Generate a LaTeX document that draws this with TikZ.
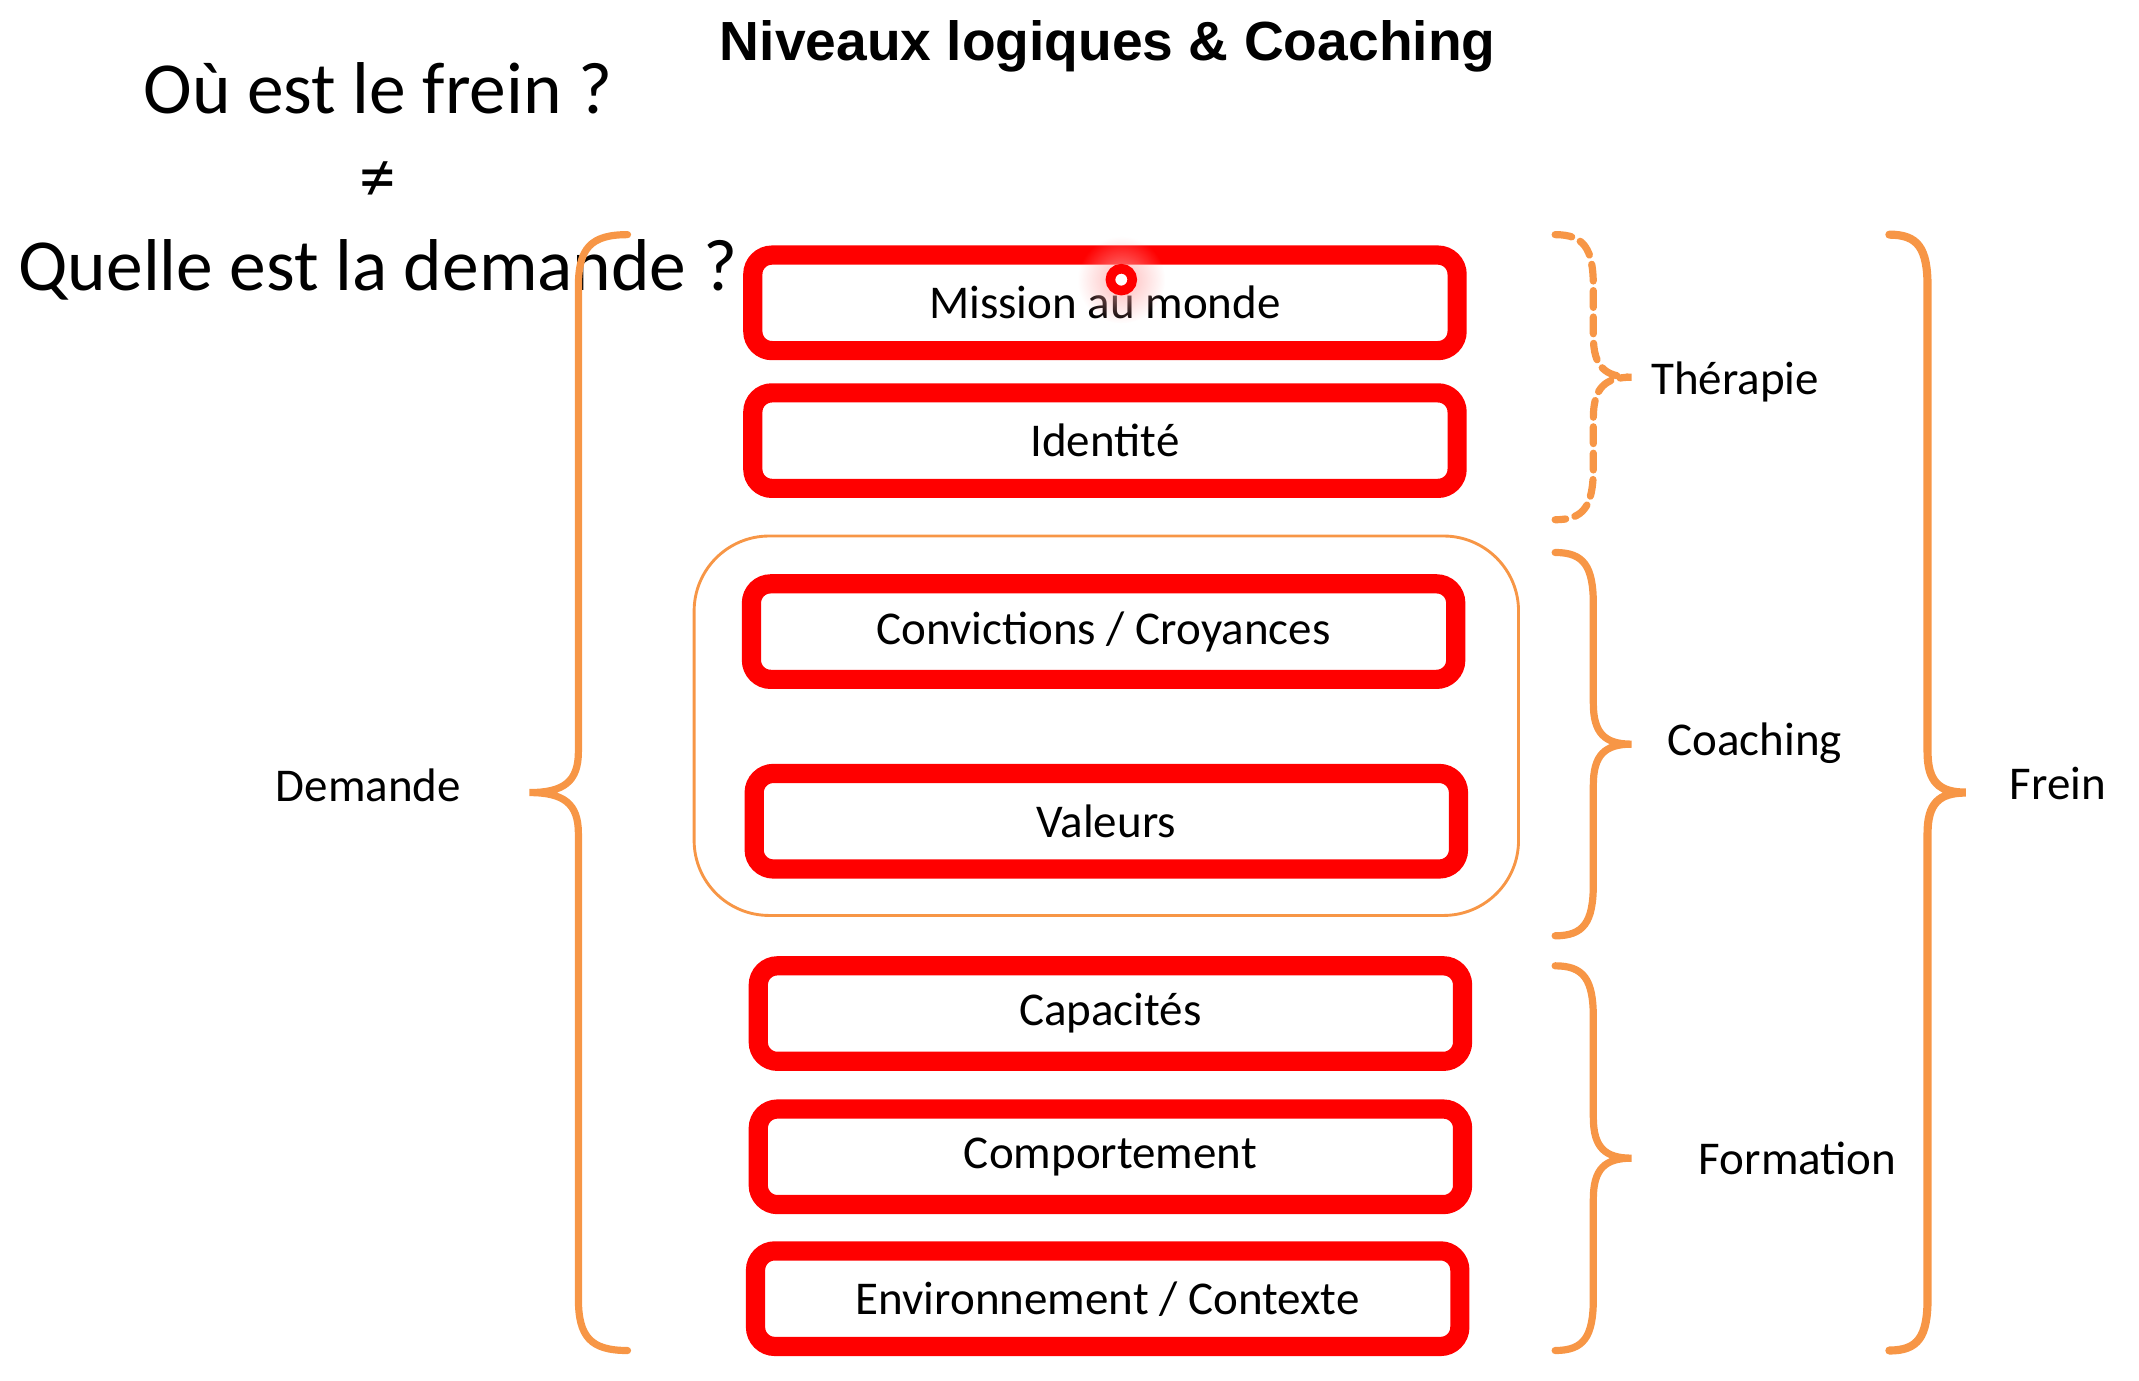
\documentclass[tikz,border=0pt]{standalone}
\usepackage{fontspec}
\setmainfont{Carlito}
\newfontfamily\titrefont{Liberation Sans}
\usetikzlibrary{fadings}
\definecolor{rougeniv}{RGB}{255,0,0}
\definecolor{orangeniv}{RGB}{247,150,70}
\tikzfading[name=halo, inner color=transparent!20, outer color=transparent!100]
% accolade : [options]{x des bouts}{y haut}{y bas}{profondeur}
\newcommand{\accolade}[5][]{%
    \draw[accolade, #1] (#2,#3) .. controls ({#2+0.75*#5},#3) and ({#2+#5},{#3-10}) .. ({#2+#5},{#3-38})
        -- ({#2+#5},{(#3+#4)/2+30}) .. controls ({#2+#5},{(#3+#4)/2+8}) and ({#2+1.3*#5},{(#3+#4)/2}) .. ({#2+2*#5},{(#3+#4)/2})
        .. controls ({#2+1.3*#5},{(#3+#4)/2}) and ({#2+#5},{(#3+#4)/2-8}) .. ({#2+#5},{(#3+#4)/2-30})
        -- ({#2+#5},{#4+38}) .. controls ({#2+#5},{#4+10}) and ({#2+0.75*#5},#4) .. (#2,#4);}
\begin{document}
\begin{tikzpicture}[x=0.01cm, y=0.01cm,
    niveau/.style={draw=rougeniv, line width=4pt, rounded corners=4pt, fill=white,
        minimum width=5.16cm, minimum height=0.70cm, inner sep=0pt,
        font=\fontsize{9.8pt}{11pt}\selectfont},
    etiquette/.style={font=\fontsize{9.8pt}{11pt}\selectfont},
    question/.style={font=\fontsize{15.3pt}{17pt}\selectfont},
    accolade/.style={draw=orangeniv, line width=1.5pt, line cap=round}]
    \useasboundingbox (0,0) rectangle (1568,-1012);

    % Titre
    \node[font=\titrefont\fontsize{11.5pt}{13pt}\selectfont\bfseries] (titre) at (812,-34) {Niveaux logiques \& Coaching};

    % Questions
    \node[question] (ouFrein) at (277,-65) {Où est le frein ?};
    \node[question] (different) at (277,-133) {≠};
    \node[question] (quelleDemande) at (277,-198) {Quelle est la demande ?};

    % Cadre orange autour des croyances et valeurs
    \node[draw=orangeniv, line width=0.6pt, rounded corners=0.55cm,
        minimum width=6.04cm, minimum height=2.78cm] (groupe) at (811,-532) {};

    % Les niveaux logiques
    \node[niveau] (mission) at (810,-222) {Mission au monde};
    \node[niveau] (identite) at (810,-323) {Identité};
    \node[niveau] (croyances) at (809,-463) {Convictions / Croyances};
    \node[niveau] (valeurs) at (811,-602) {Valeurs};
    \node[niveau] (capacites) at (814,-743) {Capacités};
    \node[niveau] (comportement) at (814,-848) {Comportement};
    \node[niveau] (environnement) at (812,-952) {Environnement / Contexte};

    % Pointeur
    \fill[red!35!white, path fading=halo] (822,-205) circle (32);
    \draw[rougeniv, line width=2pt, fill=white] (822,-205) circle (8);

    % Accolade gauche
    \accolade{460}{-172}{-990}{-36}
    \node[etiquette] (demande) at (270,-576) {Demande};

    % Accolades droites
    \accolade[dash pattern=on 3.5pt off 2pt]{1140}{-172}{-381}{28}
    \node[etiquette, anchor=west] (therapie) at (1198,-280) {Thérapie};
    \accolade{1140}{-405}{-686}{28}
    \node[etiquette, anchor=west] (coaching) at (1210,-545) {Coaching};
    \accolade{1140}{-708}{-990}{28}
    \node[etiquette, anchor=west] (formation) at (1233,-849) {Formation};
    \accolade[line width=1.7pt]{1385}{-172}{-990}{28}
    \node[etiquette, anchor=west] (frein) at (1461,-574) {Frein};
\end{tikzpicture}
\end{document}
